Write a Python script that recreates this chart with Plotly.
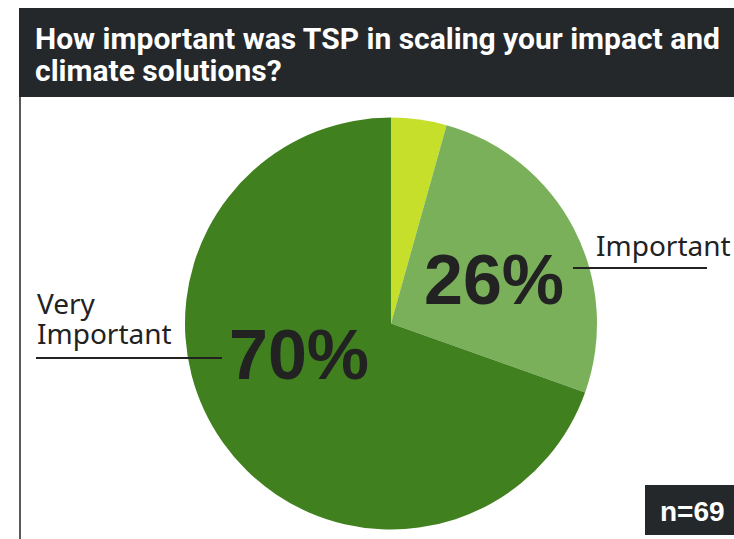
import plotly.graph_objects as go

# survey answers, n = 69
categories = ["Somewhat Important", "Important", "Very Important"]
counts = [3, 18, 48]
colors = ["#c5df2a", "#7ab05a", "#40801e"]

title_lines = ["How important was TSP in scaling your impact and",
               "climate solutions?"]

W, H = 734, 539
total = sum(counts)
pct = [f"{round(c / total * 100)}%" for c in counts]


def px(x):
    return x / W


def py(y):
    return 1 - y / H


fig = go.Figure()
fig.add_trace(go.Pie(labels=categories, values=counts,
                     marker=dict(colors=colors, line=dict(width=0)),
                     sort=False, direction="clockwise", rotation=0,
                     textinfo="none", hoverinfo="skip",
                     domain=dict(x=[px(185), px(597)], y=[py(530), py(117)])))

dark = "#25282a"
shapes = [
    # title bar
    dict(type="rect", x0=px(19), x1=1, y0=py(97), y1=py(8),
         fillcolor=dark, line=dict(width=0)),
    # left rule
    dict(type="line", x0=px(20), x1=px(20), y0=py(97), y1=0,
         line=dict(color="#222", width=1.5)),
    # label leader lines
    dict(type="line", x0=px(36), x1=px(222), y0=py(358), y1=py(358),
         line=dict(color="#222", width=2)),
    dict(type="line", x0=px(573), x1=px(707), y0=py(268), y1=py(268),
         line=dict(color="#222", width=2)),
    # n box
    dict(type="rect", x0=px(645), x1=1, y0=py(535), y1=py(485),
         fillcolor=dark, line=dict(width=0)),
]

title_font = dict(family="Roboto", size=30, color="white", weight="bold")
label_font = dict(family="Noto Sans, DejaVu Sans", size=28, color="#222")
big_font = dict(family="Liberation Sans, Arial", size=70, color="#222", weight="bold")

ann = []
for i, line in enumerate(title_lines):
    ann.append(dict(text=line, x=px(33), y=py(38 + i * 33), xanchor="left",
                    yanchor="middle", font=title_font))
ann += [
    dict(text="Very", x=px(35), y=py(303), xanchor="left", yanchor="middle", font=label_font),
    dict(text=categories[2].split()[1], x=px(35), y=py(333), xanchor="left",
         yanchor="middle", font=label_font),
    dict(text=categories[1], x=px(594), y=py(245), xanchor="left", yanchor="middle",
         font=label_font),
    dict(text=pct[1], x=px(494), y=py(280), xanchor="center", yanchor="middle", font=big_font),
    dict(text=pct[2], x=px(299), y=py(355), xanchor="center", yanchor="middle", font=big_font),
    dict(text=f"n={total}", x=px(692), y=py(511), xanchor="center", yanchor="middle",
         font=dict(family="Liberation Sans, Arial", size=28, color="white", weight="bold")),
]
for a in ann:
    a.update(xref="paper", yref="paper", showarrow=False)

fig.update_layout(width=W, height=H, margin=dict(l=0, r=0, t=0, b=0),
                  paper_bgcolor="white", plot_bgcolor="white",
                  showlegend=False, hovermode=False,
                  shapes=shapes, annotations=ann)

# drop the page's default body margin so the figure fills the window
fig.write_html("out.html", config={"displayModeBar": False},
               post_script="document.body.style.margin='0';"
                           "document.body.style.overflow='hidden';")
